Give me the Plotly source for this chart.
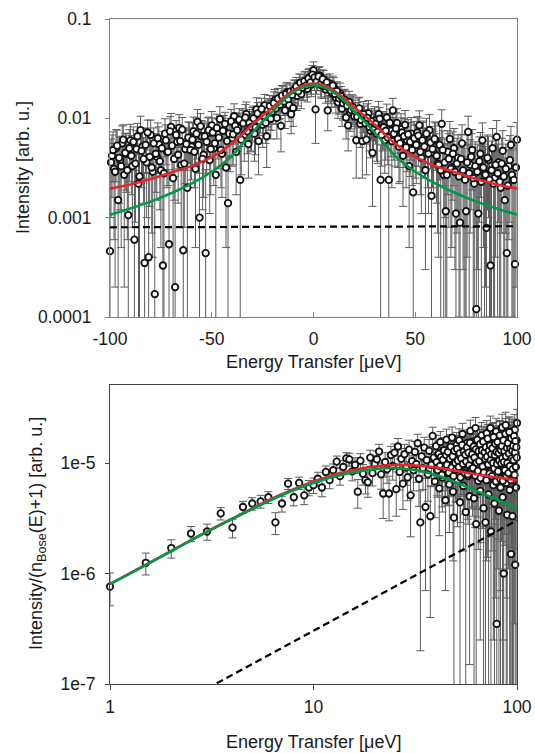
import plotly.graph_objects as go

# ---------------- data: top panel (energy in ueV, intensity in 1e-3 arb. u.) ----------------
E_TOP = list(range(-100, 101))
I_TOP_E3 = [
    0.46, 4.2, 3.1, 5.0, 1.5, 3.8, 5.6, 2.7, 4.4, 1.06,
    6.0, 3.3, 0.6, 4.9, 2.2, 7.6, 5.2, 0.35, 3.6, 0.4,
    6.8, 2.9, 0.17, 4.1, 5.5, 3.0, 0.33, 7.0, 4.6, 0.54,
    8.2, 2.5, 0.2, 5.8, 8.0, 3.4, 0.47, 4.9, 2.0, 6.3,
    5.2, 7.4, 3.1, 9.2, 1.0, 6.6, 4.3, 0.44, 7.1, 3.8,
    8.5, 5.0, 2.7, 6.9, 9.8, 4.4, 7.6, 3.2, 1.4, 5.9,
    6.3, 10.5, 4.6, 8.0, 2.4, 9.1, 6.8, 11.0, 5.5, 7.9,
    9.4, 7.0, 12.3, 5.9, 10.8, 8.6, 13.5, 6.6, 11.4, 9.9,
    12.8, 15.2, 10.1, 14.0, 8.4, 16.5, 12.0, 18.3, 13.6, 11.0,
    12.7, 19.0, 16.8, 22.5, 17.5, 20.6, 24.0, 19.8, 26.0, 22.0,
    30.5, 12.3, 25.0, 27.0, 21.5, 24.5, 19.5, 12.0, 22.5, 18.0,
    20.5, 16.0, 14.5, 17.8, 12.5, 15.0, 10.2, 8.5, 11.5, 13.0,
    10.5, 6.0, 12.0, 8.8, 5.9, 9.5, 6.1, 11.2, 7.5, 4.5,
    9.5, 7.0, 11.0, 2.4, 8.2, 6.0, 10.2, 2.4, 7.5, 12.0,
    6.5, 9.0, 5.2, 7.8, 4.2, 8.6, 6.0, 3.3, 7.0, 1.8,
    5.5, 7.2, 8.5, 4.0, 6.3, 3.0, 5.0, 7.6, 1.66, 4.5,
    6.0, 3.5, 5.4, 8.8, 2.7, 1.16, 4.6, 6.2, 3.2, 5.0,
    1.1, 4.0, 0.89, 5.6, 2.6, 1.16, 7.3, 3.4, 4.8, 2.2,
    0.12, 1.1, 4.4, 6.0, 2.8, 0.79, 3.8, 0.33, 5.0, 2.5,
    6.5, 3.6, 2.0, 4.7, 1.5, 0.44, 3.3, 5.4, 2.4, 0.34, 6.1,
]
ERR_TOP_E3 = [
    2.4, 2.6, 2.5, 2.7, 2.3, 2.6, 2.8, 2.5, 2.6, 2.4,
    2.7, 2.5, 2.4, 2.6, 2.3, 2.9, 2.7, 2.5, 2.6, 2.4,
    2.8, 2.5, 2.4, 2.6, 2.7, 2.5, 2.4, 2.9, 2.6, 2.5,
    3.0, 2.6, 2.4, 2.7, 2.9, 2.6, 2.5, 2.7, 2.5, 2.8,
    2.8, 2.9, 2.6, 3.1, 2.6, 2.9, 2.7, 2.6, 3.0, 2.7,
    3.2, 2.9, 2.7, 3.0, 3.3, 2.8, 3.1, 2.7, 2.8, 3.0,
    3.0, 3.5, 2.9, 3.3, 2.8, 3.4, 3.1, 3.6, 3.0, 3.3,
    3.5, 3.3, 3.8, 3.2, 3.7, 3.5, 3.9, 3.4, 3.8, 3.7,
    4.0, 4.3, 3.9, 4.2, 3.8, 4.5, 4.1, 4.7, 4.3, 4.0,
    4.4, 5.0, 4.8, 5.4, 5.0, 5.3, 5.7, 5.2, 5.9, 5.5,
    6.5, 6.7, 5.9, 6.1, 5.6, 5.9, 5.3, 4.5, 5.5, 5.0,
    5.2, 4.7, 4.5, 4.9, 4.2, 4.6, 4.0, 3.8, 4.1, 4.3,
    3.9, 3.5, 4.0, 3.7, 3.4, 3.8, 3.4, 3.9, 3.5, 3.2,
    3.6, 3.3, 3.8, 3.0, 3.5, 3.2, 3.7, 3.0, 3.4, 3.9,
    3.2, 3.5, 3.0, 3.3, 2.9, 3.4, 3.1, 2.8, 3.2, 2.7,
    3.0, 3.2, 3.4, 2.9, 3.1, 2.7, 3.0, 3.3, 2.6, 2.9,
    3.0, 2.8, 3.0, 3.4, 2.7, 2.6, 2.9, 3.1, 2.7, 2.9,
    2.6, 2.8, 2.5, 3.0, 2.7, 2.6, 3.2, 2.7, 2.9, 2.6,
    2.5, 2.6, 2.8, 3.0, 2.7, 2.5, 2.8, 2.5, 2.9, 2.6,
    3.0, 2.7, 2.6, 2.8, 2.5, 2.4, 2.7, 2.9, 2.6, 2.4, 3.0,
]
# interleaved measurement points at half-integer energies (-99.5 ... 99.5)
E_TOP_HALF = [e + 0.5 for e in range(-100, 100)]
I_TOP_HALF_E3 = [
    3.6, 4.8, 2.9, 5.3, 4.0, 3.3, 6.1, 4.5, 3.0, 5.0,
    4.2, 5.8, 3.5, 6.6, 2.6, 4.7, 3.9, 5.4, 7.2, 4.1,
    3.2, 5.6, 4.4, 6.3, 3.7, 5.0, 2.8, 6.0, 4.6, 7.4,
    5.3, 3.9, 6.8, 4.3, 5.9, 7.7, 3.5, 5.5, 6.4, 4.8,
    6.1, 4.6, 7.0, 5.4, 8.3, 3.9, 6.6, 5.8, 7.6, 4.9,
    7.2, 5.6, 8.0, 6.4, 4.8, 7.5, 8.8, 5.9, 7.0, 9.3,
    6.9, 8.4, 7.6, 9.7, 6.1, 8.9, 10.2, 7.4, 9.0, 8.2,
    10.0, 8.1, 11.2, 9.3, 12.4, 10.6, 9.0, 12.0, 13.3, 11.6,
    14.2, 12.6, 15.8, 13.7, 16.9, 14.8, 17.5, 15.6, 18.6, 17.2,
    19.4, 21.0, 18.7, 22.8, 20.4, 23.6, 21.5, 25.2, 23.0, 27.5,
    25.8, 23.4, 26.4, 22.0, 24.8, 21.2, 23.0, 20.3, 19.0, 21.4,
    17.6, 18.8, 15.9, 16.7, 14.2, 15.3, 13.4, 14.6, 12.1, 12.9,
    11.8, 10.4, 12.6, 9.6, 11.0, 8.9, 10.1, 8.2, 9.3, 7.7,
    8.8, 7.3, 9.9, 6.8, 8.1, 7.5, 6.4, 9.0, 5.9, 7.0,
    7.9, 6.2, 5.6, 7.2, 6.6, 5.1, 6.9, 5.8, 4.8, 6.3,
    5.4, 6.7, 4.6, 6.0, 5.2, 7.0, 4.4, 5.7, 4.9, 6.2,
    4.2, 3.4, 3.0, 4.8, 3.6, 2.7, 3.9, 3.1, 4.4, 2.9,
    3.5, 2.6, 3.9, 3.0, 2.4, 3.6, 2.8, 4.1, 2.5, 3.3,
    2.9, 3.7, 2.3, 3.2, 2.7, 4.0, 2.4, 3.0, 2.2, 3.4,
    2.8, 2.3, 3.5, 2.6, 3.1, 2.1, 3.8, 2.7, 2.4, 3.2,
]
ERR_TOP_HALF_E3 = ERR_TOP_E3[1:]

E_FIT_TOP = [-100, -90, -80, -70, -60, -50, -45, -40, -35, -30, -25, -20, -15, -10, -5, 0,
             5, 10, 15, 20, 25, 30, 35, 40, 45, 50, 60, 70, 80, 90, 100]
RED_TOP_E3 = [1.96, 2.16, 2.45, 2.85, 3.3, 4.1, 4.7, 5.6, 6.9, 8.7, 10.6, 12.9, 16.0, 19.0, 21.4, 22.4,
              21.4, 19.0, 16.0, 12.9, 10.6, 8.7, 6.9, 5.6, 4.7, 4.1, 3.3, 2.85, 2.45, 2.16, 1.96]
GREEN_TOP_E3 = [1.07, 1.24, 1.45, 1.76, 2.2, 2.9, 3.45, 4.2, 5.5, 7.2, 9.3, 11.8, 15.0, 18.2, 20.5, 21.5,
                20.5, 18.2, 15.0, 11.8, 9.3, 7.2, 5.5, 4.2, 3.45, 2.9, 2.2, 1.76, 1.45, 1.24, 1.07]
E_BG_TOP = [-100, 100]
BG_TOP_E3 = [0.80, 0.82]

# ---------------- data: bottom panel (energy in ueV, value in 1e-6 arb. u.) ----------------
E_BOT = [1 + 0.5 * k for k in range(199)]
I_BOT_E6 = [
    0.76, 1.25, 1.7, 2.3, 2.4, 3.5, 2.6, 4.0, 4.3, 4.5,
    4.9, 2.9, 4.3, 6.5, 4.9, 6.6, 5.1, 6.0, 6.3, 7.2,
    6.0, 8.3, 7.0, 8.6, 10.3, 7.6, 9.2, 11.0, 10.8, 8.4,
    9.6, 5.5, 10.5, 8.0, 7.0, 6.7, 11.2, 8.1, 9.8, 10.8,
    12.7, 7.9, 5.3, 10.2, 8.8, 5.3, 11.8, 9.4, 12.4, 5.8,
    14.1, 8.3, 10.9, 6.5, 12.0, 9.1, 7.4, 13.2, 5.1, 10.4,
    8.6, 12.6, 9.8, 15.1, 7.2, 2.9, 11.5, 9.0, 13.8, 4.0,
    10.6, 7.9, 12.9, 3.3, 9.6, 17.6, 11.2, 6.8, 14.2, 8.7,
    12.0, 5.9, 15.5, 9.9, 7.4, 13.0, 10.6, 4.6, 16.3, 8.1,
    11.7, 6.4, 13.9, 9.2, 17.0, 5.5, 3.2, 12.5, 8.8, 14.6,
    7.0, 10.9, 16.0, 4.4, 12.2, 9.5, 18.3, 6.2, 11.4, 14.0,
    3.6, 9.8, 15.2, 7.6, 12.8, 5.0, 19.5, 10.3, 15.5, 8.3,
    13.1, 4.8, 11.0, 20.7, 2.8, 9.0, 16.4, 6.9, 12.3, 14.8,
    5.6, 10.6, 17.8, 8.0, 13.5, 3.9, 11.8, 15.9, 2.9, 9.4,
    18.6, 7.1, 12.6, 5.2, 14.7, 10.1, 20.7, 2.4, 8.6, 13.3,
    16.8, 6.3, 11.1, 4.3, 15.0, 9.3, 19.2, 0.35, 12.0, 7.4,
    14.4, 3.7, 10.2, 17.3, 6.0, 12.9, 8.5, 21.0, 4.9, 11.6,
    1.0, 15.6, 9.0, 13.7, 22.0, 6.6, 11.0, 3.4, 16.5, 8.2,
    13.0, 19.0, 5.7, 10.4, 14.6, 1.5, 8.9, 17.7, 3.3, 12.1,
    7.0, 15.0, 10.8, 20.0, 1.2, 12.3, 6.0, 16.0, 23.0,
]
ERR_BOT_E6 = [
    0.25, 0.28, 0.32, 0.36, 0.4, 0.45, 0.5, 0.5, 0.55, 0.6,
    0.6, 0.65, 0.7, 0.75, 0.8, 0.85, 0.9, 0.95, 1.0, 1.05,
    1.05, 1.1, 1.15, 1.2, 1.25, 1.3, 1.35, 1.4, 1.45, 1.5,
    1.55, 1.6, 1.65, 1.7, 1.75, 1.8, 1.85, 1.9, 1.95, 2.0,
    2.05, 2.1, 2.15, 2.2, 2.25, 2.3, 2.35, 2.4, 2.45, 2.5,
    2.55, 2.6, 2.65, 2.7, 2.75, 2.8, 2.85, 2.9, 2.95, 3.0,
    3.0, 3.05, 3.1, 3.1, 3.15, 2.7, 3.2, 3.25, 3.3, 3.3,
    3.35, 3.4, 3.4, 2.9, 3.5, 3.5, 3.55, 3.6, 3.6, 3.65,
    3.7, 3.7, 3.75, 3.8, 3.8, 3.85, 3.9, 3.9, 3.95, 4.0,
    4.0, 4.05, 4.1, 4.1, 4.15, 4.2, 4.2, 4.25, 4.3, 4.3,
    4.35, 4.4, 4.4, 4.45, 4.5, 4.5, 4.55, 4.6, 4.6, 4.65,
    4.7, 4.7, 4.75, 4.8, 4.8, 4.85, 4.9, 4.9, 4.95, 5.0,
    5.0, 5.05, 5.1, 5.1, 5.15, 5.2, 5.2, 5.25, 5.3, 5.3,
    5.35, 5.4, 5.4, 5.45, 5.5, 5.5, 5.55, 5.6, 5.6, 5.65,
    5.7, 5.7, 5.75, 5.8, 5.8, 5.85, 5.9, 5.9, 5.95, 6.0,
    6.0, 6.05, 6.1, 6.1, 6.15, 6.2, 6.2, 6.25, 6.3, 6.3,
    6.35, 6.4, 6.4, 6.45, 6.5, 6.5, 6.55, 6.6, 6.6, 6.65,
    6.7, 6.7, 6.75, 6.8, 6.8, 6.85, 6.9, 6.9, 6.95, 7.0,
    7.0, 7.05, 7.1, 7.1, 7.15, 7.2, 7.2, 7.25, 7.3, 7.3,
    7.35, 7.4, 7.4, 7.45, 7.5, 7.5, 7.55, 7.6, 7.6,
]
# interleaved points at high energy (40.25 ... 99.75)
E_BOT_Q = [40.25 + 0.5 * k for k in range(120)]
I_BOT_Q_E6 = [
    10.2, 8.6, 12.1, 9.4, 11.3, 7.8, 10.7, 13.0, 8.9, 11.8,
    9.6, 12.6, 8.2, 10.9, 14.0, 9.1, 11.5, 7.6, 12.9, 10.0,
    8.7, 13.4, 10.5, 9.2, 12.2, 7.4, 11.0, 14.5, 9.8, 12.7,
    8.1, 11.9, 10.3, 13.8, 7.9, 12.4, 9.5, 15.2, 10.8, 8.8,
    12.0, 9.0, 14.1, 11.2, 7.7, 13.3, 10.1, 16.2, 8.5, 12.8,
    10.4, 14.8, 7.3, 11.7, 13.0, 9.3, 15.6, 8.2, 12.5, 10.9,
    13.9, 7.0, 11.4, 16.6, 9.7, 12.9, 8.0, 14.4, 10.6, 12.0,
    7.6, 13.6, 10.0, 17.2, 8.9, 11.8, 14.9, 6.8, 12.6, 9.8,
    15.5, 8.4, 12.3, 10.5, 17.8, 7.2, 13.1, 9.9, 14.2, 11.1,
    6.9, 16.0, 10.2, 12.8, 8.6, 18.4, 11.5, 7.5, 13.7, 10.0,
    15.1, 8.1, 12.2, 19.0, 9.4, 13.5, 7.0, 16.7, 11.0, 12.9,
    8.8, 14.3, 10.6, 17.5, 7.8, 12.4, 15.8, 9.2, 13.9, 11.2,
]
ERR_BOT_Q_E6 = ERR_BOT_E6[79:199]

E_FIT_BOT = [1, 1.5, 2, 3, 4, 6, 8, 10, 12.5, 16, 20, 25, 32, 40, 50, 63, 80, 100]
RED_BOT_E6 = [0.805, 1.2, 1.6, 2.4, 3.15, 4.6, 5.8, 6.8, 7.8, 8.7, 9.3, 9.6, 9.5, 9.1, 8.5, 7.9, 7.4, 7.0]
GREEN_BOT_E6 = [0.80, 1.19, 1.59, 2.38, 3.12, 4.5, 5.7, 6.6, 7.5, 8.3, 8.8, 9.0, 8.6, 7.8, 6.7, 5.6, 4.65, 3.9]
E_BG_BOT = [3.0, 100]
BG_BOT_E6 = [0.091, 3.03]

# ---------------- styling ----------------
FONT = "Liberation Sans, Arial, Helvetica, sans-serif"
TXT = "#1a1a1a"
RED = "#e5262b"
GREEN = "#009a46"
ERRC = "#5c5c5c"


def scale(vals, f):
    return [v * f for v in vals]


fig = go.Figure()


def add_errors(x, y, err, xa, ya):
    fig.add_trace(go.Scatter(
        x=x, y=y, mode="markers", xaxis=xa, yaxis=ya, showlegend=False, hoverinfo="skip",
        marker=dict(size=2, color="rgba(0,0,0,0)"),
        error_y=dict(type="data", array=err, visible=True, color=ERRC, thickness=1, width=4),
    ))


def add_points(x, y, xa, ya):
    fig.add_trace(go.Scatter(
        x=x, y=y, mode="markers", xaxis=xa, yaxis=ya, showlegend=False, cliponaxis=False,
        marker=dict(symbol="circle", size=6.5, color="white", line=dict(color="#111111", width=1.8)),
    ))


def add_fits(xfit, red, green, xbg, bg, xa, ya):
    fig.add_trace(go.Scatter(
        x=xfit, y=red, mode="lines", xaxis=xa, yaxis=ya, showlegend=False,
        line=dict(color=RED, width=2.6, shape="spline", smoothing=0.8),
    ))
    fig.add_trace(go.Scatter(
        x=xfit, y=green, mode="lines", xaxis=xa, yaxis=ya, showlegend=False,
        line=dict(color=GREEN, width=2.6, shape="spline", smoothing=0.8),
    ))
    fig.add_trace(go.Scatter(
        x=xbg, y=bg, mode="lines", xaxis=xa, yaxis=ya, showlegend=False,
        line=dict(color="black", width=2.2, dash="7px,4px"),
    ))


# top panel
add_errors(E_TOP, scale(I_TOP_E3, 1e-3), scale(ERR_TOP_E3, 1e-3), "x", "y")
add_errors(E_TOP_HALF, scale(I_TOP_HALF_E3, 1e-3), scale(ERR_TOP_HALF_E3, 1e-3), "x", "y")
add_points(E_TOP, scale(I_TOP_E3, 1e-3), "x", "y")
add_points(E_TOP_HALF, scale(I_TOP_HALF_E3, 1e-3), "x", "y")
add_fits(E_FIT_TOP, scale(RED_TOP_E3, 1e-3), scale(GREEN_TOP_E3, 1e-3),
         E_BG_TOP, scale(BG_TOP_E3, 1e-3), "x", "y")

# bottom panel
add_errors(E_BOT, scale(I_BOT_E6, 1e-6), scale(ERR_BOT_E6, 1e-6), "x2", "y2")
add_errors(E_BOT_Q, scale(I_BOT_Q_E6, 1e-6), scale(ERR_BOT_Q_E6, 1e-6), "x2", "y2")
add_points(E_BOT, scale(I_BOT_E6, 1e-6), "x2", "y2")
add_points(E_BOT_Q, scale(I_BOT_Q_E6, 1e-6), "x2", "y2")
add_fits(E_FIT_BOT, scale(RED_BOT_E6, 1e-6), scale(GREEN_BOT_E6, 1e-6),
         E_BG_BOT, scale(BG_BOT_E6, 1e-6), "x2", "y2")

W, H = 535, 753
XDOM = [110 / W, 517 / W]
Y1DOM = [1 - 317 / H, 1 - 19 / H]
Y2DOM = [1 - 684 / H, 1 - 385 / H]
tickfont = dict(family=FONT, size=17.5, color=TXT)

common = dict(showgrid=False, zeroline=False, tickfont=tickfont, automargin=False,
              showline=True, linewidth=1, mirror=True, tickmode="array")

fig.update_layout(
    width=W, height=H,
    margin=dict(l=0, r=0, t=0, b=0, autoexpand=False),
    paper_bgcolor="white", plot_bgcolor="white",
    showlegend=False,
    font=dict(family=FONT, color=TXT),
    xaxis=dict(domain=XDOM, anchor="y", range=[-100, 100],
               tickvals=[-100, -50, 0, 50, 100],
               ticktext=["-100", "-50", "0", "50", "100"],
               ticks="inside", ticklen=5, tickcolor="#808080", linecolor="#808080",
               ticklabelstandoff=6, **common),
    yaxis=dict(domain=Y1DOM, anchor="x", type="log", range=[-4, -1],
               tickvals=[1e-4, 1e-3, 1e-2, 1e-1],
               ticktext=["0.0001", "0.001", "0.01", "0.1"],
               ticks="outside", ticklen=4, tickcolor="#808080", linecolor="#808080",
               ticklabelstandoff=10, **common),
    xaxis2=dict(domain=XDOM, anchor="y2", type="log", range=[0, 2],
                tickvals=[1, 10, 100], ticktext=["1", "10", "100"],
                ticks="outside", ticklen=5, tickcolor="#444444", linecolor="#444444",
                ticklabelstandoff=2, **common),
    yaxis2=dict(domain=Y2DOM, anchor="x2", type="log", range=[-7, -4.294],
                tickvals=[1e-7, 1e-6, 1e-5],
                ticktext=["1e-7", "1e-6", "1e-5"],
                ticks="outside", ticklen=4, tickcolor="#444444", linecolor="#444444",
                ticklabelstandoff=6, **common),
)

title_font = dict(family=FONT, size=18, color=TXT)
xc = (110 + 517) / 2 / W
fig.add_annotation(text="Energy Transfer [\u03bceV]", xref="paper", yref="paper",
                   x=xc, y=1 - 362 / H, xanchor="center", yanchor="middle",
                   showarrow=False, font=title_font)
fig.add_annotation(text="Energy Transfer [\u03bceV]", xref="paper", yref="paper",
                   x=xc, y=1 - 742 / H, xanchor="center", yanchor="middle",
                   showarrow=False, font=title_font)
fig.add_annotation(text="Intensity [arb. u.]", xref="paper", yref="paper",
                   x=23 / W, y=1 - 168 / H, xanchor="center", yanchor="middle",
                   textangle=-90, showarrow=False, font=title_font)
fig.add_annotation(text="Intensity/(n<sub>Bose</sub>(E)+1) [arb. u.]", xref="paper", yref="paper",
                   x=37 / W, y=1 - 534 / H, xanchor="center", yanchor="middle",
                   textangle=-90, showarrow=False, font=title_font)

fig.write_html(
    "out.html",
    config={"displayModeBar": False, "staticPlot": True},
    post_script="document.body.style.margin='0';document.body.style.padding='0';"
                "document.body.style.overflow='hidden';",
)
